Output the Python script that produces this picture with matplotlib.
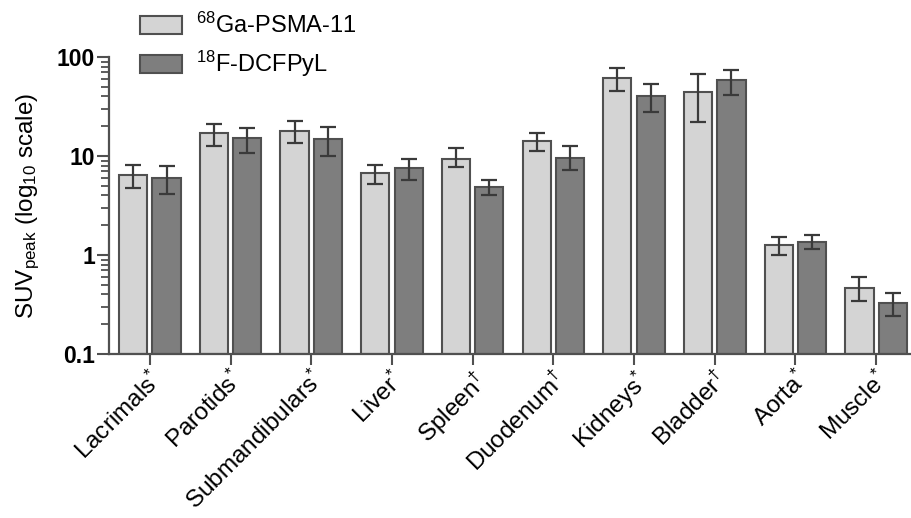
import numpy as np
import matplotlib.pyplot as plt
from matplotlib.ticker import LogLocator, NullFormatter, FixedFormatter, FixedLocator

plt.rcParams["font.family"] = ["Liberation Sans", "DejaVu Sans"]
plt.rcParams["mathtext.fontset"] = "custom"
plt.rcParams["mathtext.rm"] = "Liberation Sans"
plt.rcParams["mathtext.it"] = "Liberation Sans:italic"

organs = [r"Lacrimals$^{*}$", r"Parotids$^{*}$", r"Submandibulars$^{*}$", r"Liver$^{*}$",
          r"Spleen$^{\dagger}$", r"Duodenum$^{\dagger}$", r"Kidneys$^{*}$", r"Bladder$^{\dagger}$",
          r"Aorta$^{*}$", r"Muscle$^{*}$"]

# 68Ga-PSMA-11
ga_mean = [6.46, 16.9, 18.0, 6.78, 9.4, 14.2, 61.2, 43.8, 1.27, 0.467]
ga_hi = [8.2, 21.2, 22.8, 8.2, 12.1, 16.9, 76.7, 66.6, 1.53, 0.594]
ga_lo = [4.7, 12.7, 13.4, 5.27, 7.67, 11.2, 45.5, 22.1, 0.99, 0.344]

# 18F-DCFPyL
f_mean = [5.98, 15.1, 14.9, 7.55, 4.81, 9.55, 40.2, 57.9, 1.36, 0.324]
f_hi = [7.97, 19.2, 19.5, 9.25, 5.66, 12.5, 53.2, 73.1, 1.58, 0.412]
f_lo = [4.12, 10.6, 9.9, 5.75, 4.05, 7.2, 28.1, 41.5, 1.15, 0.241]

x = np.arange(len(organs))
w = 0.35
off = 0.207
base = 0.1

fig = plt.figure(figsize=(9.12, 5.18), dpi=100)
ax = fig.add_axes([109 / 912, 1 - 354 / 518, (910 - 109) / 912, (354 - 57) / 518])

edge = "#505050"
err_kw = dict(fmt="none", ecolor="#3a3a3a", elinewidth=1.6, capsize=5.5, capthick=1.6, zorder=3)

ga_mean = np.array(ga_mean)
f_mean = np.array(f_mean)

ax.bar(x - off, ga_mean - base, w, bottom=base, color="#d4d4d4", edgecolor=edge,
       linewidth=1.5, label=r"$^{68}$Ga-PSMA-11")
ax.bar(x + off, f_mean - base, w, bottom=base, color="#7e7e7e", edgecolor=edge,
       linewidth=1.5, label=r"$^{18}$F-DCFPyL")
ax.errorbar(x - off, ga_mean, yerr=[ga_mean - np.array(ga_lo), np.array(ga_hi) - ga_mean], **err_kw)
ax.errorbar(x + off, f_mean, yerr=[f_mean - np.array(f_lo), np.array(f_hi) - f_mean], **err_kw)

ax.set_yscale("log")
ax.set_ylim(0.1, 100)
ax.set_xlim(-0.507, 9.42)

ax.yaxis.set_major_locator(FixedLocator([0.1, 1, 10, 100]))
ax.yaxis.set_major_formatter(FixedFormatter(["0.1", "1", "10", "100"]))
ax.yaxis.set_minor_locator(LogLocator(base=10, subs=np.arange(2, 10)))
ax.yaxis.set_minor_formatter(NullFormatter())

for lab in ax.get_yticklabels():
    lab.set_fontweight("bold")
ax.tick_params(axis="y", which="major", length=9, width=1.5, color=edge, labelsize=16.5, pad=1)
ax.tick_params(axis="y", which="minor", length=5.5, width=1.3, color=edge)

ax.set_xticks(x)
ax.set_xticklabels(organs, rotation=45, ha="right", rotation_mode="anchor", fontsize=17.5)
ax.tick_params(axis="x", length=8, width=1.5, color=edge, pad=1)

for s in ["top", "right"]:
    ax.spines[s].set_visible(False)
for s in ["left", "bottom"]:
    ax.spines[s].set_linewidth(1.6)
    ax.spines[s].set_color(edge)

ax.set_ylabel(r"SUV$_{\mathrm{peak}}$ (log$_{10}$ scale)", fontsize=17.5, labelpad=11)

ax.legend(loc="upper left", bbox_to_anchor=(128 / 912, 1 - 1 / 518),
          bbox_transform=fig.transFigure, frameon=False, fontsize=17, borderpad=0,
          handlelength=1.78, handleheight=0.8, handletextpad=0.58, labelspacing=0.47)

fig.savefig("out.png", dpi=100)
